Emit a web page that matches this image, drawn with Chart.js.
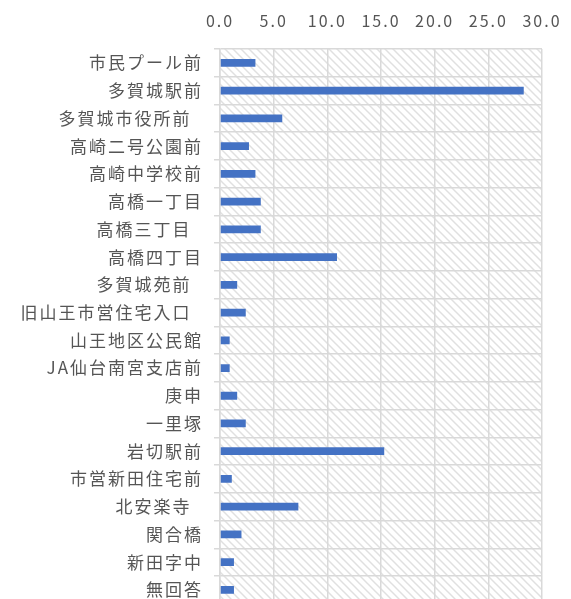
<!DOCTYPE html>
<html lang="ja">
<head>
  <meta charset="UTF-8" />
  <title>バス停別 利用割合</title>
  <script src="https://cdn.jsdelivr.net/npm/chart.js"></script>
  <style>
    html, body {
      margin: 0;
      padding: 0;
      overflow: hidden;
      background: #fff;
    }
    .container {
      width: 571px;
      height: 625px;
      position: relative;
    }
  </style>
</head>
<body>
  <div class="container">
    <canvas id="chart"></canvas>
  </div>

  <script>
    // bus stops, top to bottom
    const stops = [
      '市民プール前', '多賀城駅前', '多賀城市役所前  ', '高崎二号公園前', '高崎中学校前',
      '高橋一丁目', '高橋三丁目  ', '高橋四丁目', '多賀城苑前  ', '旧山王市営住宅入口  ',
      '山王地区公民館', 'JA仙台南宮支店前', '庚申', '一里塚', '岩切駅前',
      '市営新田住宅前', '北安楽寺  ', '関合橋', '新田字中', '無回答'
    ];
    const shares = [
      3.3, 28.3, 5.8, 2.7, 3.3,
      3.8, 3.8, 10.9, 1.6, 2.4,
      0.9, 0.9, 1.6, 2.4, 15.3,
      1.1, 7.3, 2.0, 1.3, 1.3
    ];
    const xMin = 0, xMax = 30, xStep = 5;

    const textColor = '#555555';
    const gridColor = '#d9d9d9';

    // diagonal hatch for the plot background
    function makeHatch(ctx) {
      const tile = document.createElement('canvas');
      tile.width = 8;
      tile.height = 8;
      const t = tile.getContext('2d');
      t.strokeStyle = '#e0e0e0';
      t.lineWidth = 1.5;
      t.beginPath();
      t.moveTo(-2, -2); t.lineTo(10, 10);
      t.moveTo(-10, -2); t.lineTo(2, 10);
      t.moveTo(6, -2); t.lineTo(18, 10);
      t.stroke();
      return ctx.createPattern(tile, 'repeat');
    }

    const hatchBg = {
      id: 'hatchBg',
      beforeDraw(chart) {
        const { ctx, chartArea: a } = chart;
        ctx.letterSpacing = '2px';
        ctx.save();
        ctx.fillStyle = makeHatch(ctx);
        ctx.fillRect(a.left, a.top, a.right - a.left, a.bottom - a.top);
        ctx.restore();
      },
      afterDraw(chart) {
        // keep label measuring unaffected on later layouts
        chart.ctx.letterSpacing = '0px';
      }
    };

    const ctx = document.getElementById('chart').getContext('2d');
    new Chart(ctx, {
      type: 'bar',
      data: {
        labels: stops,
        datasets: [{
          data: shares,
          backgroundColor: '#4472C4',
          borderWidth: 0,
          categoryPercentage: 1,
          barPercentage: 0.28
        }]
      },
      options: {
        indexAxis: 'y',
        responsive: true,
        maintainAspectRatio: false,
        animation: false,
        layout: { padding: { left: 0, right: 29, top: 0, bottom: 2 } },
        plugins: {
          legend: { display: false },
          tooltip: { enabled: false }
        },
        scales: {
          x: {
            position: 'top',
            min: xMin,
            max: xMax,
            ticks: {
              stepSize: xStep,
              color: textColor,
              padding: 4,
              font: { family: '"Noto Sans CJK JP", "Noto Sans", sans-serif', size: 16 },
              callback: v => Number(v).toFixed(1)
            },
            // invisible tick marks just hold the labels above the plot
            grid: { color: gridColor, lineWidth: 1.5, tickLength: 14, tickColor: 'rgba(0,0,0,0)' },
            border: { display: false },
            afterFit: s => { s.height = 49; }
          },
          y: {
            ticks: {
              color: textColor,
              padding: 11,
              autoSkip: false,
              font: { family: '"Noto Sans CJK JP", sans-serif', size: 17 }
            },
            grid: { color: gridColor, lineWidth: 1.5, offset: true, tickLength: 6 },
            border: { color: gridColor, width: 1.5 },
            afterFit: s => { s.width = 220; }
          }
        }
      },
      plugins: [hatchBg]
    });
  </script>
</body>
</html>
